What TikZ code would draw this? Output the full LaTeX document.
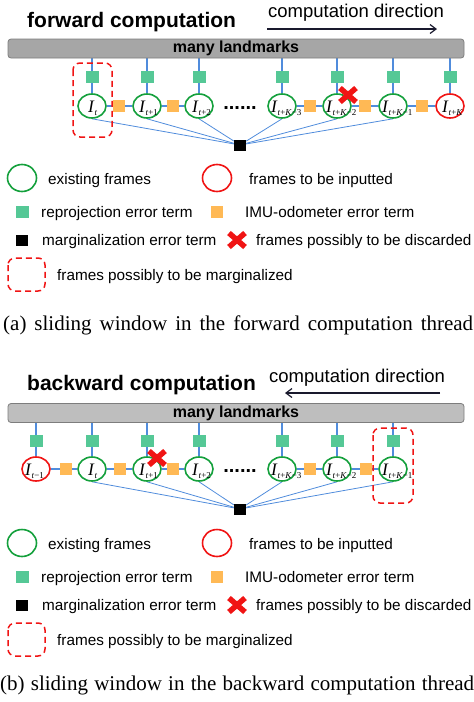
\documentclass[tikz,border=0pt]{standalone}
\usepackage{fontspec}
\setmainfont{Liberation Serif}
\setsansfont{Liberation Sans}
\usetikzlibrary{shapes.geometric,arrows.meta,backgrounds}
\definecolor{cgreen}{RGB}{20,160,60}
\definecolor{cred}{RGB}{240,20,20}
\definecolor{csq}{RGB}{85,200,150}
\definecolor{corange}{RGB}{255,185,85}
\definecolor{cblue}{RGB}{80,140,220}
\definecolor{cbartop}{RGB}{166,166,166}
\definecolor{cbarbot}{RGB}{190,190,190}
\definecolor{cbarline}{RGB}{125,125,125}
\definecolor{carrow}{RGB}{25,25,45}
\newcommand{\Ifr}[1]{\textit{I}\raisebox{-3.5pt}{\fontsize{9}{9}\selectfont #1}}
\tikzset{
  fnode/.style={ellipse, draw=cgreen, line width=1.6pt, minimum width=28pt, minimum height=24pt, inner sep=0pt},
  fnew/.style={fnode, draw=cred},
  lfnode/.style={fnode, minimum width=29pt, minimum height=27pt},
  lfnew/.style={lfnode, draw=cred},
  reproj/.style={rectangle, fill=csq, minimum width=13pt, minimum height=12pt, inner sep=0pt},
  imu/.style={rectangle, fill=corange, minimum width=12pt, minimum height=12pt, inner sep=0pt},
  marg/.style={rectangle, fill=black, minimum width=12pt, minimum height=11pt, inner sep=0pt},
  vline/.style={draw=cblue, line width=1.5pt},
  hline/.style={draw=cblue, line width=1.2pt},
  mline/.style={draw=cblue, line width=0.8pt},
  flabel/.style={anchor=base west, inner sep=0pt, font=\fontsize{17.5}{17.5}\selectfont},
  mbox/.style={draw=cred, dash pattern=on 6pt off 4pt, line width=1.5pt, rounded corners=7pt},
  xmark/.style={draw=cred, line width=5.5pt},
  legtext/.style={anchor=base west, inner sep=0pt, font=\sffamily\fontsize{15.3}{15.3}\selectfont},
  title/.style={anchor=base west, inner sep=0pt, font=\sffamily\bfseries\fontsize{21}{21}\selectfont},
  dirtext/.style={anchor=base west, inner sep=0pt, font=\sffamily\fontsize{18.5}{18.5}\selectfont},
  dirarrow/.style={draw=carrow, line width=1.2pt, -{Straight Barb[length=6pt,width=9pt]}},
  lbar/.style={rectangle, rounded corners=3pt, draw=cbarline, line width=0.8pt, minimum width=456pt, minimum height=19pt, inner sep=0pt, font=\sffamily\bfseries\fontsize{16}{16}\selectfont},
  dots/.style={inner sep=0pt, anchor=base, font=\sffamily\bfseries\fontsize{20}{20}\selectfont},
  capt/.style={anchor=base west, inner sep=0pt, font=\fontsize{21}{21}\selectfont}
}
\begin{document}
\begin{tikzpicture}[x=1pt,y=-1pt]
\useasboundingbox (0,0) rectangle (474,702);
% ================= TOP PANEL =================
\node[title] (t1) at (27,27) {forward computation};
\node[dirtext] (d1) at (268,17.5) {computation direction};
\coordinate (d1s) at (267,29);
\coordinate (d1e) at (437,29);
\draw[dirarrow] (d1s) -- (d1e);
\node[lbar, fill=cbartop] (bar1) at (236,48.5) {many landmarks};
\node[marg] (m1) at (240,145) {};
\node[fnode] (a1) at (92,106) {};
\node[fnode] (a2) at (147,106) {};
\node[fnode] (a3) at (199,106) {};
\node[fnode] (a4) at (282,106) {};
\node[fnode] (a5) at (337,106) {};
\node[fnode] (a6) at (393,106) {};
\node[fnew]  (a7) at (450,106) {};
\node[flabel] (la1) at (88,112) {\Ifr{\textit{t}}};
\node[flabel] (la2) at (139,112) {\Ifr{\textit{t}+1}};
\node[flabel] (la3) at (192,112) {\Ifr{\textit{t}+2}};
\node[flabel] (la4) at (271,112) {\Ifr{\textit{t}+\textit{K}−3}};
\node[flabel] (la5) at (326,112) {\Ifr{\textit{t}+\textit{K}−2}};
\node[flabel] (la6) at (382,112) {\Ifr{\textit{t}+\textit{K}−1}};
\node[flabel] (la7) at (442,112) {\Ifr{\textit{t}+\textit{K}}};
\node[dots] (dt1) at (240,109) {......};
\foreach \n/\x in {1/92,2/147,3/199,4/282,5/337,6/393,7/450}
  \node[reproj] (ga\n) at (\x,77) {};
\node[imu] (oa1) at (119,106) {};
\node[imu] (oa2) at (173,106) {};
\node[imu] (oa3) at (310,106) {};
\node[imu] (oa4) at (365,106) {};
\node[imu] (oa5) at (422,106) {};
\begin{scope}[on background layer]
  \foreach \n in {1,...,7}
    \draw[vline] (bar1.south -| a\n) -- (a\n.north);
  \draw[hline] (a1) -- (oa1) -- (a2) -- (oa2) -- (a3);
  \draw[hline] (a4) -- (oa3) -- (a5) -- (oa4) -- (a6) -- (oa5) -- (a7);
  \foreach \n in {1,...,6}
    \draw[mline] (a\n.south) -- (m1);
\end{scope}
\draw[mbox] (73,63) rectangle (112,137);
\draw[xmark, shift={(348,95)}] (-8,-7) -- (8,7) (-8,7) -- (8,-7);
% legend top
\node[lfnode] (le1) at (22,178) {};
\node[legtext] (lt1) at (48,184) {existing frames};
\node[lfnew] (le2) at (217,178) {};
\node[legtext] (lt2) at (249,184) {frames to be inputted};
\node[reproj] (le3) at (22,212) {};
\node[legtext] (lt3) at (41,217) {reprojection error term};
\node[imu] (le4) at (217,212) {};
\node[legtext] (lt4) at (245,217) {IMU-odometer error term};
\node[marg] (le5) at (22,240) {};
\node[legtext] (lt5) at (42,245) {marginalization error term};
\draw[xmark, shift={(237,240)}] (-8,-7) -- (8,7) (-8,7) -- (8,-7);
\node[legtext] (lt6) at (256,245) {frames possibly to be discarded};
\draw[mbox] (8,258) rectangle (45,291);
\node[legtext] (lt7) at (57,280) {frames possibly to be marginalized};
\node[capt] (cap1) at (3,330) {\hbox to 470pt{(a) sliding window in the forward computation thread}};
% ================= BOTTOM PANEL =================
\node[title] (t2) at (27,390) {backward computation};
\node[dirtext] (d2) at (269,382) {computation direction};
\coordinate (d2s) at (440,393);
\coordinate (d2e) at (285,393);
\draw[dirarrow] (d2s) -- (d2e);
\node[lbar, fill=cbarbot] (bar2) at (236,413) {many landmarks};
\node[marg] (m2) at (240,509) {};
\node[fnew]  (b0) at (36,469) {};
\node[fnode] (b1) at (92,469) {};
\node[fnode] (b2) at (147,469) {};
\node[fnode] (b3) at (199,469) {};
\node[fnode] (b4) at (282,469) {};
\node[fnode] (b5) at (337,469) {};
\node[fnode] (b6) at (393,469) {};
\node[flabel] (lb0) at (25,475) {\Ifr{\textit{t}−1}};
\node[flabel] (lb1) at (88,475) {\Ifr{\textit{t}}};
\node[flabel] (lb2) at (139,475) {\Ifr{\textit{t}+1}};
\node[flabel] (lb3) at (192,475) {\Ifr{\textit{t}+2}};
\node[flabel] (lb4) at (271,475) {\Ifr{\textit{t}+\textit{K}−3}};
\node[flabel] (lb5) at (326,475) {\Ifr{\textit{t}+\textit{K}−2}};
\node[flabel] (lb6) at (382,475) {\Ifr{\textit{t}+\textit{K}−1}};
\node[dots] (dt2) at (240,472) {......};
\foreach \n/\x in {0/36,1/92,2/147,3/199,4/282,5/337,6/393}
  \node[reproj] (gb\n) at (\x,441) {};
\node[imu] (ob1) at (66,469) {};
\node[imu] (ob2) at (120,469) {};
\node[imu] (ob3) at (173,469) {};
\node[imu] (ob4) at (310,469) {};
\node[imu] (ob5) at (366,469) {};
\begin{scope}[on background layer]
  \foreach \n in {0,...,6}
    \draw[vline] (bar2.south -| b\n) -- (b\n.north);
  \draw[hline] (b0) -- (ob1) -- (b1) -- (ob2) -- (b2) -- (ob3) -- (b3);
  \draw[hline] (b4) -- (ob4) -- (b5) -- (ob5) -- (b6);
  \foreach \n in {1,...,6}
    \draw[mline] (b\n.south) -- (m2);
\end{scope}
\draw[mbox] (373,428) rectangle (413,503);
\draw[xmark, shift={(157,458)}] (-8,-7) -- (8,7) (-8,7) -- (8,-7);
% legend bottom
\node[lfnode] (lf1) at (22,543) {};
\node[legtext] (lu1) at (48,549) {existing frames};
\node[lfnew] (lf2) at (217,543) {};
\node[legtext] (lu2) at (249,549) {frames to be inputted};
\node[reproj] (lf3) at (22,577) {};
\node[legtext] (lu3) at (41,582) {reprojection error term};
\node[imu] (lf4) at (217,577) {};
\node[legtext] (lu4) at (245,582) {IMU-odometer error term};
\node[marg] (lf5) at (22,605) {};
\node[legtext] (lu5) at (42,610) {marginalization error term};
\draw[xmark, shift={(237,605)}] (-8,-7) -- (8,7) (-8,7) -- (8,-7);
\node[legtext] (lu6) at (256,610) {frames possibly to be discarded};
\draw[mbox] (8,623) rectangle (45,656);
\node[legtext] (lu7) at (57,645) {frames possibly to be marginalized};
\node[capt] (cap2) at (0,690) {\hbox to 474pt{(b) sliding window in the backward computation thread}};
\end{tikzpicture}
\end{document}
